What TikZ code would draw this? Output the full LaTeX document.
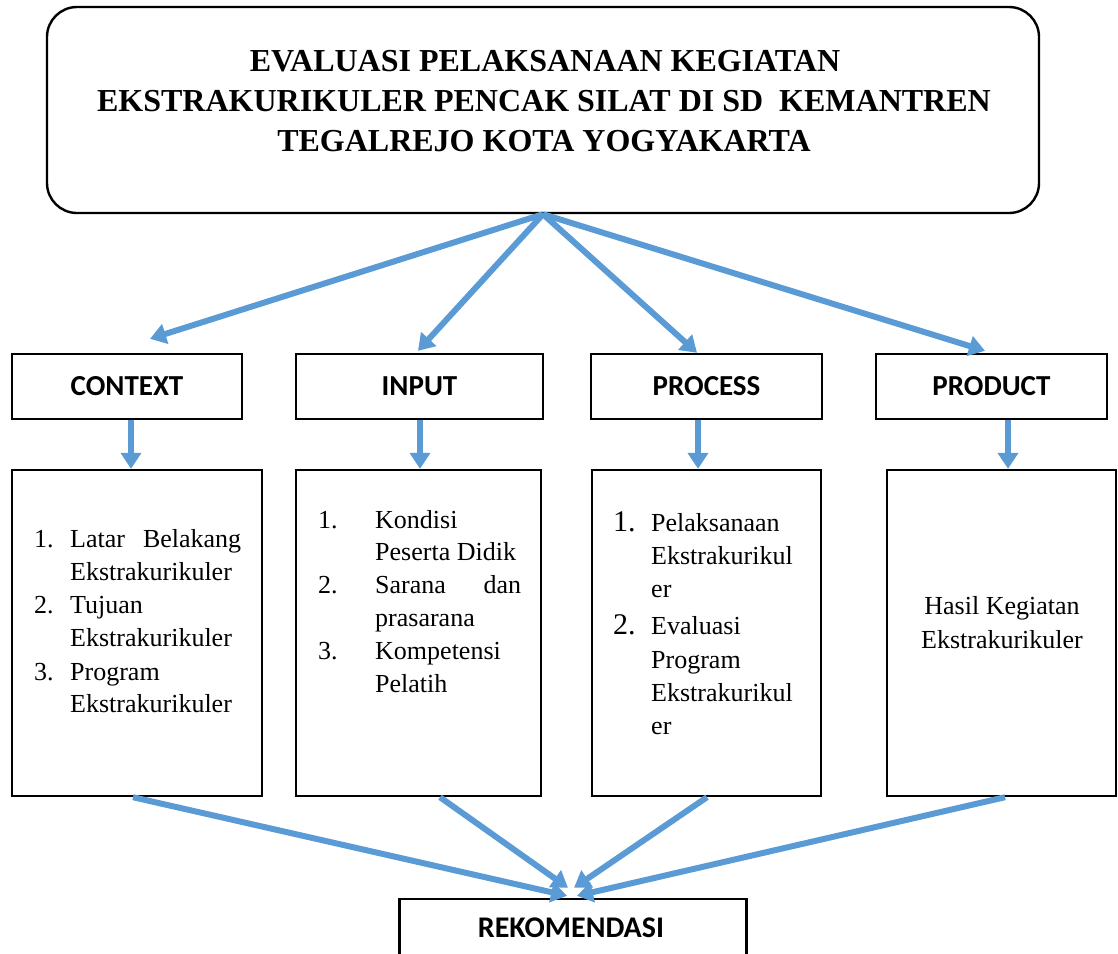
\documentclass[tikz,border=0pt]{standalone}
\usepackage{fontspec}
\setmainfont{Liberation Serif}
\newfontfamily\calib{Carlito}
\usetikzlibrary{arrows.meta,calc}
\definecolor{arr}{HTML}{5B9BD5}
\begin{document}
\begin{tikzpicture}[x=1pt,y=-1pt,
  hbox/.style={draw,line width=2.4pt,inner sep=0pt,minimum height=65pt,font=\calib\bfseries\fontsize{29}{34}\selectfont},
  lbox/.style={draw,line width=2.4pt,inner sep=0pt,minimum height=326pt},
  conn/.style={draw=arr,line width=6pt,-{Triangle[length=16pt,width=20pt]}},
  body/.style={anchor=base west,inner sep=0pt,font=\fontsize{26}{31}\selectfont},
  bignum/.style={anchor=base west,inner sep=0pt,font=\fontsize{30}{34}\selectfont},
  ctext/.style={anchor=base,inner sep=0pt,font=\fontsize{26}{31}\selectfont},
  ttl/.style={anchor=base,inner sep=0pt,font=\bfseries\fontsize{32}{38}\selectfont}]
\useasboundingbox (0,0) rectangle (1118,953);

% title
\node[draw,line width=2.4pt,rounded corners=30pt,minimum width=992pt,minimum height=206pt,inner sep=0pt] (title) at (543,110) {};
\node[ttl] (tl1) at (545,71) {EVALUASI PELAKSANAAN KEGIATAN};
\node[ttl] (tl2) at (544,111) {EKSTRAKURIKULER PENCAK SILAT DI SD\ \ KEMANTREN};
\node[ttl] (tl3) at (544,151) {TEGALREJO KOTA YOGYAKARTA};

% header boxes
\node[hbox,minimum width=230pt] (ctx) at (127,386.5) {CONTEXT};
\node[hbox,minimum width=247pt] (inp) at (419.5,386.5) {INPUT};
\node[hbox,minimum width=231pt] (prc) at (706.5,386.5) {PROCESS};
\node[hbox,minimum width=231pt] (prd) at (991.5,386.5) {PRODUCT};

% lower boxes
\node[lbox,minimum width=250pt] (b1) at (137,633) {};
\node[lbox,minimum width=245pt] (b2) at (418.5,633) {};
\node[lbox,minimum width=229pt] (b3) at (706.5,633) {};
\node[lbox,minimum width=229pt] (b4) at (1001.5,633) {};

% recommendation
\node[hbox,minimum width=347pt,minimum height=64pt] (rek) at (573,931) {};
\node[inner sep=0pt,anchor=base,font=\calib\bfseries\fontsize{30}{34}\selectfont] (rekt) at (571,937) {REKOMENDASI};

% box 1 text
\node[body] (n11) at (34,547) {1.};
\node[body] (t11) at (70,547) {\makebox[171pt][s]{Latar Belakang}};
\node[body] (t12) at (70,580) {Ekstrakurikuler};
\node[body] (n12) at (34,613) {2.};
\node[body] (t13) at (70,613) {Tujuan};
\node[body] (t14) at (70,646) {Ekstrakurikuler};
\node[body] (n13) at (34,680) {3.};
\node[body] (t15) at (70,680) {Program};
\node[body] (t16) at (70,712) {Ekstrakurikuler};

% box 2 text
\node[body] (n21) at (318,528) {1.};
\node[body] (t21) at (375,528) {Kondisi};
\node[body] (t22) at (375,560) {Peserta Didik};
\node[body] (n22) at (318,593) {2.};
\node[body] (t23) at (375,593) {\makebox[146pt][s]{Sarana dan}};
\node[body] (t24) at (375,626) {prasarana};
\node[body] (n23) at (318,659) {3.};
\node[body] (t25) at (375,659) {Kompetensi};
\node[body] (t26) at (375,692) {Pelatih};

% box 3 text
\node[bignum] (n31) at (613,531) {1.};
\node[body] (t31) at (651,531) {Pelaksanaan};
\node[body] (t32) at (651,564) {Ekstrakurikul};
\node[body] (t33) at (651,597) {er};
\node[bignum] (n32) at (613,634) {2.};
\node[body] (t34) at (651,634) {Evaluasi};
\node[body] (t35) at (651,668) {Program};
\node[body] (t36) at (651,701) {Ekstrakurikul};
\node[body] (t37) at (651,734) {er};

% box 4 text
\node[ctext] (t41) at (1002,614) {Hasil Kegiatan};
\node[ctext] (t42) at (1002,648) {Ekstrakurikuler};

% arrows from title
\draw[conn] (title.south) -- ($(ctx.north)+(23,-14)$);
\draw[conn] (title.south) -- ($(inp.north)+(-1.5,-2)$);
\draw[conn] (title.south) -- ($(prc.north)+(-9.5,0)$);
\draw[conn] (title.south) -- ($(prd.north)+(-6.5,-2)$);

% down arrows
\draw[conn] ($(ctx.south)+(4,0)$) -- ($(b1.north)+(-6,0)$);
\draw[conn] ($(inp.south)+(0.5,0)$) -- ($(b2.north)+(1.5,0)$);
\draw[conn] ($(prc.south)+(-8.5,0)$) -- ($(b3.north)+(-8.5,0)$);
\draw[conn] ($(prd.south)+(16.5,0)$) -- ($(b4.north)+(6.5,0)$);

% arrows to recommendation
\draw[conn] ($(b1.south)+(-4,0)$) -- ($(rek.north)+(-6,-2)$);
\draw[conn] ($(b2.south)+(21.5,0)$) -- ($(rek.north)+(-5,-10)$);
\draw[conn] ($(b3.south)+(0.5,0)$) -- ($(rek.north)+(1,-10)$);
\draw[conn] ($(b4.south)+(3.5,0)$) -- ($(rek.north)+(4,-2)$);
\end{tikzpicture}
\end{document}
